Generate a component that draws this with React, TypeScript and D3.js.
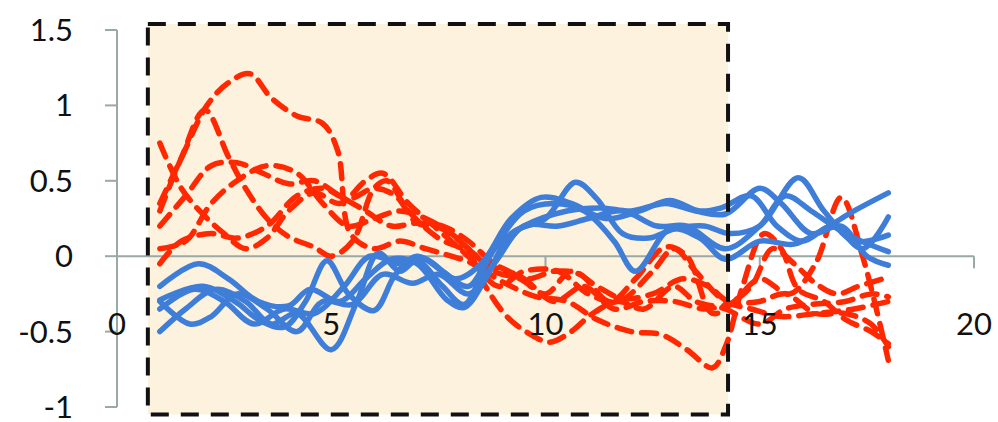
import React from "react";
import * as d3 from "d3";

type Pt = [number, number];

// Axis ticks
const xTicks = [0, 5, 10, 15, 20];
const yTicks = [-1, -0.5, 0, 0.5, 1, 1.5];

// Highlighted window (data coordinates)
const windowX: [number, number] = [0.72, 14.26];
const windowY: [number, number] = [-1.05, 1.54];

// Dashed red series
const red1: Pt[] = [[1,0.35],[1.5,0.65],[2.1,1.0],[2.6,1.15],[3.1,1.21],[3.6,1.05],[4.2,0.93],[4.8,0.88],[5.15,0.7],[5.45,0.15],[6,0.05],[6.6,0.1],[7.2,0.05],[7.8,0.0],[8.3,-0.05],[8.9,-0.2],[9.5,-0.1],[10.3,-0.1],[11,-0.25],[11.7,-0.3],[12.5,-0.1],[13,0.05],[13.5,-0.1],[14.2,-0.3],[14.8,-0.35],[15.5,-0.4],[16.3,-0.38],[17.2,-0.35],[18,-0.3]];
const red2: Pt[] = [[1,0.3],[1.5,0.65],[2.05,0.97],[2.6,0.66],[3,0.45],[3.5,0.25],[4,0.13],[4.6,0.06],[5,0.0],[5.5,0.1],[6,0.45],[6.3,0.5],[6.8,0.3],[7.5,0.12],[8.2,0.02],[8.6,-0.2],[9.1,-0.4],[9.6,-0.51],[10.1,-0.57],[10.6,-0.5],[11.1,-0.38],[11.7,-0.3],[12.3,-0.35],[13,-0.2],[13.5,-0.3],[14.2,-0.35],[15,-0.45],[15.6,-0.35],[16.2,-0.32],[17,-0.3],[17.6,-0.25],[18,-0.27]];
const red3: Pt[] = [[1,0.75],[1.5,0.45],[2,0.28],[2.5,0.15],[3,0.05],[3.5,0.12],[4,0.3],[4.6,0.42],[5.2,0.35],[5.8,0.5],[6.2,0.55],[6.8,0.35],[7.4,0.2],[8,0.05],[8.6,-0.1],[9.2,-0.2],[9.8,-0.27],[10.5,-0.3],[11.2,-0.42],[12,-0.5],[12.7,-0.52],[13.3,-0.62],[13.9,-0.74],[14.2,-0.6],[14.6,-0.2],[15.1,0.15],[15.5,0.05],[15.9,-0.22],[16.5,-0.3],[17,-0.42],[17.6,-0.5],[18,-0.58]];
const red4: Pt[] = [[1,0.05],[1.6,0.1],[2.2,0.35],[2.8,0.5],[3.5,0.6],[4.2,0.55],[4.8,0.35],[5.4,0.2],[6,0.25],[6.6,0.3],[7.2,0.25],[7.8,0.15],[8.4,0.0],[9,-0.1],[9.6,-0.15],[10.2,-0.1],[10.8,-0.12],[11.5,-0.3],[12.1,-0.15],[12.8,0.06],[13.3,0.0],[13.9,-0.38],[14.4,-0.3],[15,-0.15],[15.7,-0.25],[16.3,-0.05],[16.9,0.39],[17.4,0.0],[18,-0.69]];
const red5: Pt[] = [[1,-0.05],[1.5,0.1],[2.2,0.15],[2.8,0.12],[3.5,0.2],[4.2,0.4],[4.8,0.45],[5.4,0.38],[6,0.45],[6.5,0.4],[7,0.22],[7.6,0.18],[8.2,0.05],[8.8,-0.1],[9.4,-0.15],[10,-0.25],[10.6,-0.1],[11.2,-0.2],[11.8,-0.28],[12.5,-0.25],[13.2,-0.15],[13.8,-0.2],[14.3,-0.3],[14.8,-0.2],[15.3,0.05],[15.8,-0.05],[16.3,-0.18],[16.8,-0.25],[17.3,-0.2],[18,-0.14]];
const red6: Pt[] = [[1,0.2],[1.6,0.4],[2.2,0.6],[2.8,0.62],[3.4,0.55],[4,0.48],[4.6,0.5],[5.2,0.4],[5.8,0.3],[6.4,0.2],[7,0.22],[7.6,0.2],[8.2,0.1],[8.8,-0.05],[9.5,-0.15],[10.2,-0.3],[10.9,-0.2],[11.6,-0.35],[12.3,-0.3],[13,-0.3],[13.7,-0.35],[14.3,-0.32],[15,-0.3],[15.6,-0.25],[16.3,-0.38],[17,-0.38],[17.6,-0.45],[18,-0.6]];

// Solid blue series
const blue1: Pt[] = [[1,-0.5],[1.6,-0.35],[2.3,-0.22],[3,-0.3],[3.6,-0.45],[4.2,-0.38],[5,-0.62],[5.6,-0.3],[6.1,0.02],[6.6,-0.1],[7,-0.03],[7.6,-0.2],[8.1,-0.32],[8.7,0.0],[9.5,0.3],[10.2,0.35],[10.9,0.3],[11.6,0.1],[12.1,-0.1],[12.9,0.18],[13.6,0.12],[14.2,-0.02],[15,0.1],[15.8,0.08],[16.5,0.18],[17.2,0.3],[18,0.42]];
const blue2: Pt[] = [[1,-0.29],[2,-0.2],[2.8,-0.31],[3.3,-0.42],[3.9,-0.47],[4.4,-0.3],[4.9,-0.03],[5.4,-0.25],[6,-0.36],[6.5,-0.12],[7,0.0],[7.6,-0.1],[8.2,-0.2],[8.8,0.05],[9.5,0.2],[10.5,0.3],[11.3,0.32],[12,0.3],[12.8,0.35],[13.5,0.3],[14.2,0.28],[15,0.45],[15.5,0.35],[16.2,0.15],[16.9,0.2],[17.5,0.0],[18,-0.06]];
const blue3: Pt[] = [[1,-0.2],[1.9,-0.05],[2.6,-0.15],[3.3,-0.3],[4,-0.33],[4.5,-0.22],[5.2,-0.3],[5.8,-0.15],[6.4,-0.02],[7,-0.05],[7.7,-0.29],[8.1,-0.34],[8.6,-0.15],[9.2,0.15],[10,0.25],[10.7,0.49],[11.2,0.38],[11.8,0.15],[12.4,0.12],[13,0.18],[13.7,0.2],[14.3,0.15],[15,0.2],[15.9,0.52],[16.5,0.3],[17.2,0.1],[18,0.14]];
const blue4: Pt[] = [[1,-0.35],[1.8,-0.22],[2.5,-0.3],[3.2,-0.45],[3.9,-0.35],[4.6,-0.38],[5.3,-0.2],[5.9,0.0],[6.6,-0.05],[7.2,-0.02],[7.9,-0.15],[8.5,-0.05],[9.2,0.25],[9.9,0.39],[10.6,0.35],[11.4,0.25],[12.2,0.3],[12.9,0.37],[13.6,0.3],[14.1,0.32],[14.8,0.4],[15.4,0.2],[16,0.1],[16.7,0.2],[17.4,0.05],[18,0.26]];
const blue5: Pt[] = [[1,-0.3],[1.7,-0.45],[2.2,-0.4],[2.8,-0.25],[3.5,-0.35],[4.2,-0.5],[4.8,-0.3],[5.5,-0.32],[6.2,-0.12],[6.9,-0.18],[7.5,-0.12],[8.2,-0.25],[8.8,-0.05],[9.5,0.2],[10.3,0.2],[11,0.25],[11.8,0.3],[12.6,0.2],[13.3,0.2],[14.2,0.05],[15,0.2],[15.6,0.4],[16.2,0.3],[17,0.15],[18,0.03]];

const redSeries = [red1, red2, red3, red4, red5, red6];
const blueSeries = [blue1, blue2, blue3, blue4, blue5];

const W = 998;
const H = 422;
const FONT = "Lato, 'Open Sans', sans-serif";
const AXIS = "#9AA8A6";
const RED = "#FF2800";
const BLUE = "#3E7ED8";

export default function App() {
  const x = d3.scaleLinear().domain([0, 20]).range([117, 974]);
  const y = d3.scaleLinear().domain([-1, 1.5]).range([407, 30]);
  const line = d3
    .line<Pt>()
    .x((d) => x(d[0]))
    .y((d) => y(d[1]))
    .curve(d3.curveCatmullRom.alpha(0.5));

  const x0 = x(0);
  const y0 = y(0);
  const rx = x(windowX[0]);
  const rw = x(windowX[1]) - rx;
  const ry = y(windowY[1]);
  const rh = y(windowY[0]) - ry;

  return (
    <div style={{ position: "absolute", left: 0, top: 0 }}>
      <svg width={W} height={H} style={{ display: "block", background: "#fff" }}>
        <rect x={rx} y={ry} width={rw} height={rh} fill="#FCF2DE" />

        {/* y axis */}
        <line x1={x0} x2={x0} y1={y(1.5)} y2={y(-1)} stroke={AXIS} strokeWidth={2} />
        {yTicks.map((t) => (
          <g key={`y${t}`}>
            <line x1={x0 - 12} x2={x0} y1={y(t)} y2={y(t)} stroke={AXIS} strokeWidth={2} />
            <text
              x={73}
              y={y(t) + 11}
              textAnchor="end"
              fontFamily={FONT}
              fontSize={31}
              fill="#111"
            >
              {t}
            </text>
          </g>
        ))}

        {/* x axis */}
        <line x1={x0} x2={x(20)} y1={y0} y2={y0} stroke={AXIS} strokeWidth={2} />
        {xTicks.map((t) => (
          <line key={`xt${t}`} x1={x(t)} x2={x(t)} y1={y0} y2={y0 + 12} stroke={AXIS} strokeWidth={2} />
        ))}

        {redSeries.map((s, i) => (
          <path
            key={`r${i}`}
            d={line(s) ?? ""}
            fill="none"
            stroke={RED}
            strokeWidth={5.5}
            strokeDasharray="15 10"
            strokeLinecap="round"
          />
        ))}
        {blueSeries.map((s, i) => (
          <path
            key={`b${i}`}
            d={line(s) ?? ""}
            fill="none"
            stroke={BLUE}
            strokeWidth={5.5}
            strokeLinecap="round"
          />
        ))}

        {xTicks.map((t) => (
          <text
            key={`xl${t}`}
            x={x(t)}
            y={335}
            textAnchor="middle"
            fontFamily={FONT}
            fontSize={31}
            fill="#111"
          >
            {t}
          </text>
        ))}

        <rect
          x={rx}
          y={ry}
          width={rw}
          height={rh}
          fill="none"
          stroke="#111"
          strokeWidth={4}
          strokeDasharray="18 12"
        />
      </svg>
    </div>
  );
}
